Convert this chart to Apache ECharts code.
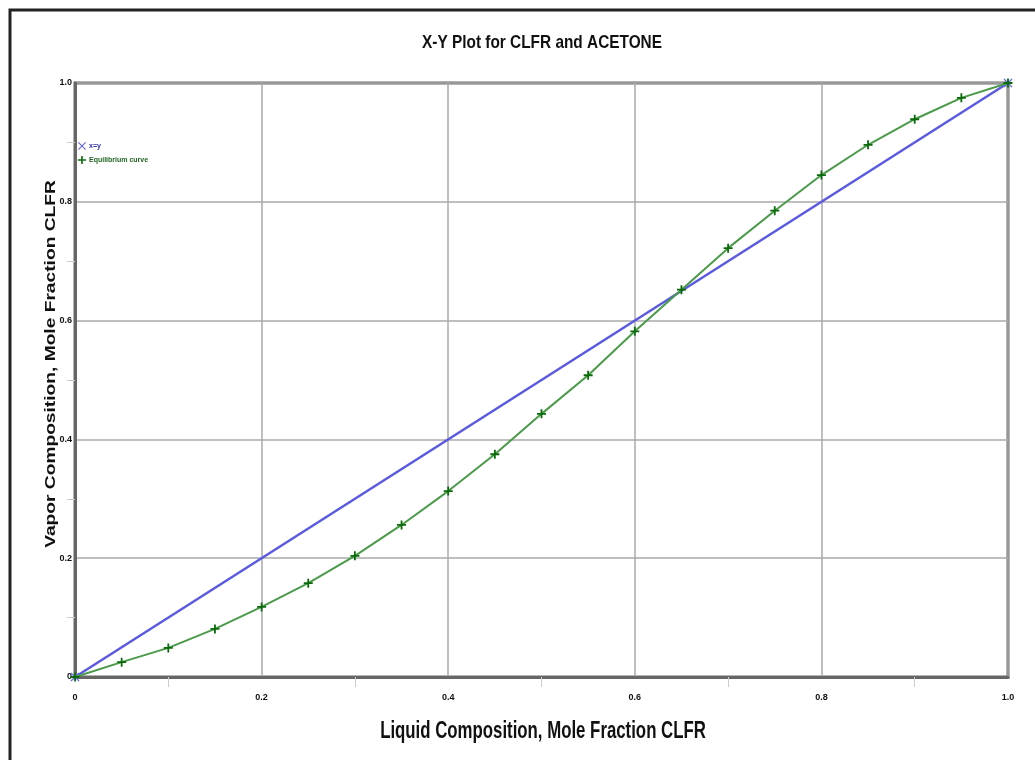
<!DOCTYPE html>
<html>
<head>
<meta charset="utf-8">
<script src="https://cdn.jsdelivr.net/npm/echarts@6/dist/echarts.min.js"></script>
<style>
  html, body { margin: 0; padding: 0; background: #fff; }
  #main { width: 1035px; height: 760px; }
</style>
</head>
<body>
<div id="main"></div>
<script>
// x-y equilibrium plot, CLFR / acetone
var liquidX = [0, 0.05, 0.1, 0.15, 0.2, 0.25, 0.3, 0.35, 0.4, 0.45, 0.5,
    0.55, 0.6, 0.65, 0.7, 0.75, 0.8, 0.85, 0.9, 0.95, 1.0];
var vaporY = [0, 0.025, 0.049, 0.081, 0.118, 0.158, 0.204, 0.256, 0.313, 0.375, 0.443,
    0.508, 0.582, 0.652, 0.722, 0.785, 0.845, 0.896, 0.939, 0.975, 1.0];
var diagX = [0, 1];
var diagY = [0, 1];
var seriesNames = ['x=y', 'Equilibrium curve'];
var titleText = 'X-Y Plot for CLFR and ACETONE';
var xName = 'Liquid Composition, Mole Fraction CLFR';
var yName = 'Vapor Composition, Mole Fraction CLFR';

var pair = function (xs, ys) {
    var out = [];
    for (var i = 0; i < xs.length; i++) {
        out.push([xs[i], ys[i]]);
    }
    return out;
};

var plusIcon = 'path://M4,0 L6,0 L6,4 L10,4 L10,6 L6,6 L6,10 L4,10 L4,6 L0,6 L0,4 L4,4 Z';
var crossIcon = 'path://M1,0 L5,4 L9,0 L10,1 L6,5 L10,9 L9,10 L5,6 L1,10 L0,9 L4,5 L0,1 Z';
var fam = '"Liberation Sans", Arial, sans-serif';

var tickFmt = function (v) {
    if (v === 0) return '0';
    return v.toFixed(1);
};

var myChart = echarts.init(document.getElementById('main'));

option = {
    backgroundColor: '#fff',
    animation: false,
    graphic: [{
        type: 'rect',
        shape: { x: 10, y: 10, width: 1040, height: 770 },
        style: { fill: 'none', stroke: '#222', lineWidth: 3 },
        silent: true
    }, {
        // title, squeezed like the original
        type: 'text',
        x: 542, y: 43,
        scaleX: 0.81,
        style: { text: titleText, font: 'bold 19px ' + fam, fill: '#111', align: 'center', verticalAlign: 'middle' }
    }, {
        type: 'text',
        x: 543, y: 731,
        scaleX: 0.7,
        style: { text: xName, font: 'bold 24px ' + fam, fill: '#111', align: 'center', verticalAlign: 'middle' }
    }, {
        type: 'text',
        x: 51, y: 364,
        rotation: Math.PI / 2,
        scaleX: 1.37,
        style: { text: yName, font: 'bold 14px ' + fam, fill: '#111', align: 'center', verticalAlign: 'middle' }
    }],
    legend: {
        orient: 'vertical',
        left: 73,
        top: 137,
        itemWidth: 8,
        itemHeight: 8,
        itemGap: 6,
        data: [
            { name: seriesNames[0], icon: crossIcon, textStyle: { color: '#3333aa' } },
            { name: seriesNames[1], icon: plusIcon, textStyle: { color: '#226622' } }
        ],
        textStyle: { fontFamily: fam, fontSize: 7, fontWeight: 'bold', padding: [0, 0, 0, -2] }
    },
    grid: {
        left: 75, right: 27, top: 83, bottom: 83,
        show: true,
        borderColor: '#666',
        borderWidth: 3
    },
    xAxis: [{
        type: 'value',
        min: 0, max: 1, interval: 0.2,
        axisLine: { lineStyle: { color: '#666', width: 3 } },
        axisTick: { show: false },
        minorTick: { show: true, splitNumber: 2, length: 10, lineStyle: { color: '#ccc' } },
        axisLabel: { formatter: tickFmt, fontSize: 9, fontWeight: 'bold', color: '#111', margin: 16, fontFamily: fam },
        splitLine: { lineStyle: { color: '#aaa', width: 1.5 } }
    }, {
        type: 'value',
        position: 'top',
        min: 0, max: 1, interval: 0.2,
        axisLine: { show: false },
        axisTick: { show: false },
        axisLabel: { show: false },
        splitLine: { show: false },
        minorTick: { show: true, splitNumber: 2, length: -10, lineStyle: { color: '#ccc' } }
    }],
    yAxis: [{
        type: 'value',
        min: 0, max: 1, interval: 0.2,
        axisLine: { lineStyle: { color: '#666', width: 3 } },
        axisTick: { show: false },
        minorTick: { show: true, splitNumber: 2, length: 8, lineStyle: { color: '#ccc' } },
        axisLabel: { formatter: tickFmt, fontSize: 9, fontWeight: 'bold', color: '#111', margin: 3, fontFamily: fam },
        splitLine: { lineStyle: { color: '#aaa', width: 1.5 } }
    }, {
        type: 'value',
        position: 'right',
        min: 0, max: 1, interval: 0.2,
        axisLine: { show: false },
        axisTick: { show: false },
        axisLabel: { show: false },
        splitLine: { show: false },
        minorTick: { show: true, splitNumber: 2, length: -8, lineStyle: { color: '#ccc' } }
    }],
    series: [{
        name: seriesNames[0],
        type: 'line',
        data: pair(diagX, diagY),
        symbol: crossIcon,
        symbolSize: 9,
        itemStyle: { color: '#6a6ae0' },
        lineStyle: { color: '#5a5ae0', width: 2.5 },
        z: 2
    }, {
        name: seriesNames[1],
        type: 'line',
        data: pair(liquidX, vaporY),
        symbol: plusIcon,
        symbolSize: 9,
        itemStyle: { color: '#0a6a0a' },
        lineStyle: { color: '#4a9a4a', width: 2 },
        z: 3
    }]
};
myChart.setOption(option);
</script>
</body>
</html>
